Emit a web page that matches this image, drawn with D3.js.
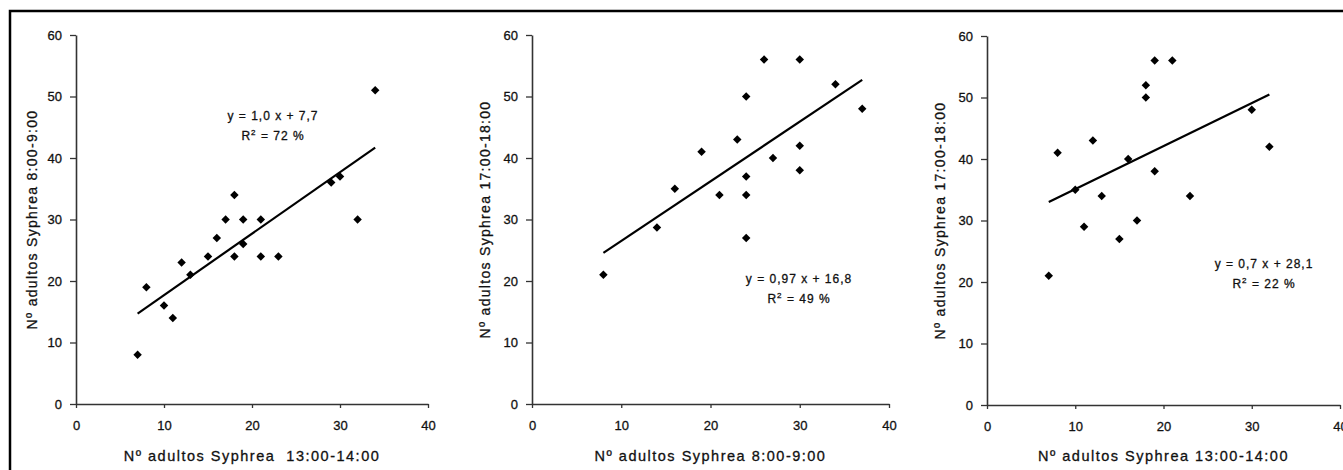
<!DOCTYPE html>
<html>
<head>
<meta charset="utf-8">
<script src="https://cdn.jsdelivr.net/npm/d3@7"></script>
<style>
  body { margin: 0; background: #fff; }
  text { font-family: "Liberation Sans", Arial, sans-serif; fill: #111; stroke: #111; stroke-width: 0.3px; }
</style>
</head>
<body>
<script>
// data
const p1X = [7, 8, 10, 11, 12, 13, 15, 16, 17, 18, 18, 19, 19, 21, 21, 23, 29, 30, 32, 34];
const p1Y = [8, 19, 16, 14, 23, 21, 24, 27, 30, 34, 24, 30, 26, 30, 24, 24, 36, 37, 30, 51];
const p2X = [8, 14, 16, 19, 21, 23, 24, 24, 24, 24, 26, 27, 30, 30, 30, 34, 37];
const p2Y = [21, 28.7, 35, 41, 34, 43, 50, 37, 34, 27, 56, 40, 56, 42, 38, 52, 48];
const p3X = [7, 8, 10, 11, 12, 13, 15, 16, 17, 18, 18, 19, 19, 21, 23, 30, 32];
const p3Y = [21, 41, 35, 29, 43, 34, 27, 40, 30, 52, 50, 56, 38, 56, 34, 48, 42];

const slopes = [1.0, 0.97, 0.7];
const intercepts = [7.7, 16.8, 28.1];
const eqLabels = ["y = 1,0 x + 7,7", "y = 0,97 x + 16,8", "y = 0,7 x + 28,1"];
const r2Labels = ["72 %", "49 %", "22 %"];
const xTitles = ["Nº adultos Syphrea  13:00-14:00", "Nº adultos Syphrea 8:00-9:00", "Nº adultos Syphrea 13:00-14:00"];
const yTitles = ["Nº adultos Syphrea 8:00-9:00", "Nº adultos Syphrea 17:00-18:00", "Nº adultos Syphrea 17:00-18:00"];
const xTicks = [0, 10, 20, 30, 40];
const yTicks = [0, 10, 20, 30, 40, 50, 60];

const series = [[p1X, p1Y], [p2X, p2Y], [p3X, p3Y]];

// layout of each panel
const panels = [
  { x0: 76, x1: 428, y0: 404, y1: 35, yt: 32, eq: [273, 116] },
  { x0: 532, x1: 889, y0: 404, y1: 35, yt: 485, eq: [799, 279] },
  { x0: 987, x1: 1340, y0: 405, y1: 36, yt: 940, eq: [1264, 264] }
];

const w = 1343, h = 470;
const svg = d3.select("body").append("svg")
  .attr("width", w)
  .attr("height", h);

// outer frame (runs off right and bottom edges)
svg.append("rect")
  .attr("x", 10).attr("y", 11)
  .attr("width", w).attr("height", h)
  .attr("fill", "none")
  .attr("stroke", "#000")
  .attr("stroke-width", 2.5);

panels.forEach(function (p, i) {
  let xs = d3.scaleLinear().domain([0, 40]).range([p.x0, p.x1]);
  let ys = d3.scaleLinear().domain([0, 60]).range([p.y0, p.y1]);
  let g = svg.append("g");

  let xAxis = g.append("g")
    .attr("transform", `translate(0,${p.y0})`)
    .call(d3.axisBottom(xs).tickValues(xTicks).tickSize(4).tickSizeOuter(0).tickPadding(13));
  let yAxis = g.append("g")
    .attr("transform", `translate(${p.x0},0)`)
    .call(d3.axisLeft(ys).tickValues(yTicks).tickSize(6).tickSizeOuter(0).tickPadding(8));

  [xAxis, yAxis].forEach(function (a) {
    a.select(".domain").attr("stroke", "#333").attr("stroke-width", 1.6);
    a.selectAll(".tick line").attr("stroke", "#333").attr("stroke-width", 1.3);
    a.selectAll(".tick text")
      .style("font-size", "13px")
      .style("font-family", "Liberation Sans, Arial, sans-serif")
      .attr("fill", "#111");
  });

  // axis titles
  g.append("text")
    .attr("x", (p.x0 + p.x1) / 2)
    .attr("y", 461)
    .attr("text-anchor", "middle")
    .style("font-size", "14.5px")
    .style("letter-spacing", "1.5px")
    .style("white-space", "pre")
    .text(xTitles[i]);

  g.append("text")
    .attr("transform", `translate(${p.yt + 5},${(p.y0 + p.y1) / 2}) rotate(-90)`)
    .attr("text-anchor", "middle")
    .style("font-size", "14px")
    .style("letter-spacing", "1.3px")
    .text(yTitles[i]);

  let xd = series[i][0], yd = series[i][1];

  // trend line from the stated equation
  let lx = d3.extent(xd);
  g.append("line")
    .attr("x1", xs(lx[0])).attr("y1", ys(slopes[i] * lx[0] + intercepts[i]))
    .attr("x2", xs(lx[1])).attr("y2", ys(slopes[i] * lx[1] + intercepts[i]))
    .attr("stroke", "#000")
    .attr("stroke-width", 2.2);

  // diamond markers
  g.selectAll("path.pt")
    .data(d3.range(xd.length))
    .enter()
    .append("path")
    .attr("class", "pt")
    .attr("d", d3.symbol(d3.symbolSquare, 36))
    .attr("transform", d => `translate(${xs(xd[d])},${ys(yd[d])}) rotate(45)`)
    .attr("fill", "#000");

  // equation labels
  g.append("text")
    .attr("x", p.eq[0]).attr("y", p.eq[1] + 4)
    .attr("text-anchor", "middle")
    .style("font-size", "12px")
    .style("letter-spacing", "1px")
    .text(eqLabels[i]);

  let r = g.append("text")
    .attr("x", p.eq[0]).attr("y", p.eq[1] + 24)
    .attr("text-anchor", "middle")
    .style("font-size", "12px")
    .style("letter-spacing", "1px");
  r.append("tspan").text("R");
  r.append("tspan").attr("dy", -5).style("font-size", "8px").text("2");
  r.append("tspan").attr("dy", 5).text(" = " + r2Labels[i]);
});
</script>
</body>
</html>
